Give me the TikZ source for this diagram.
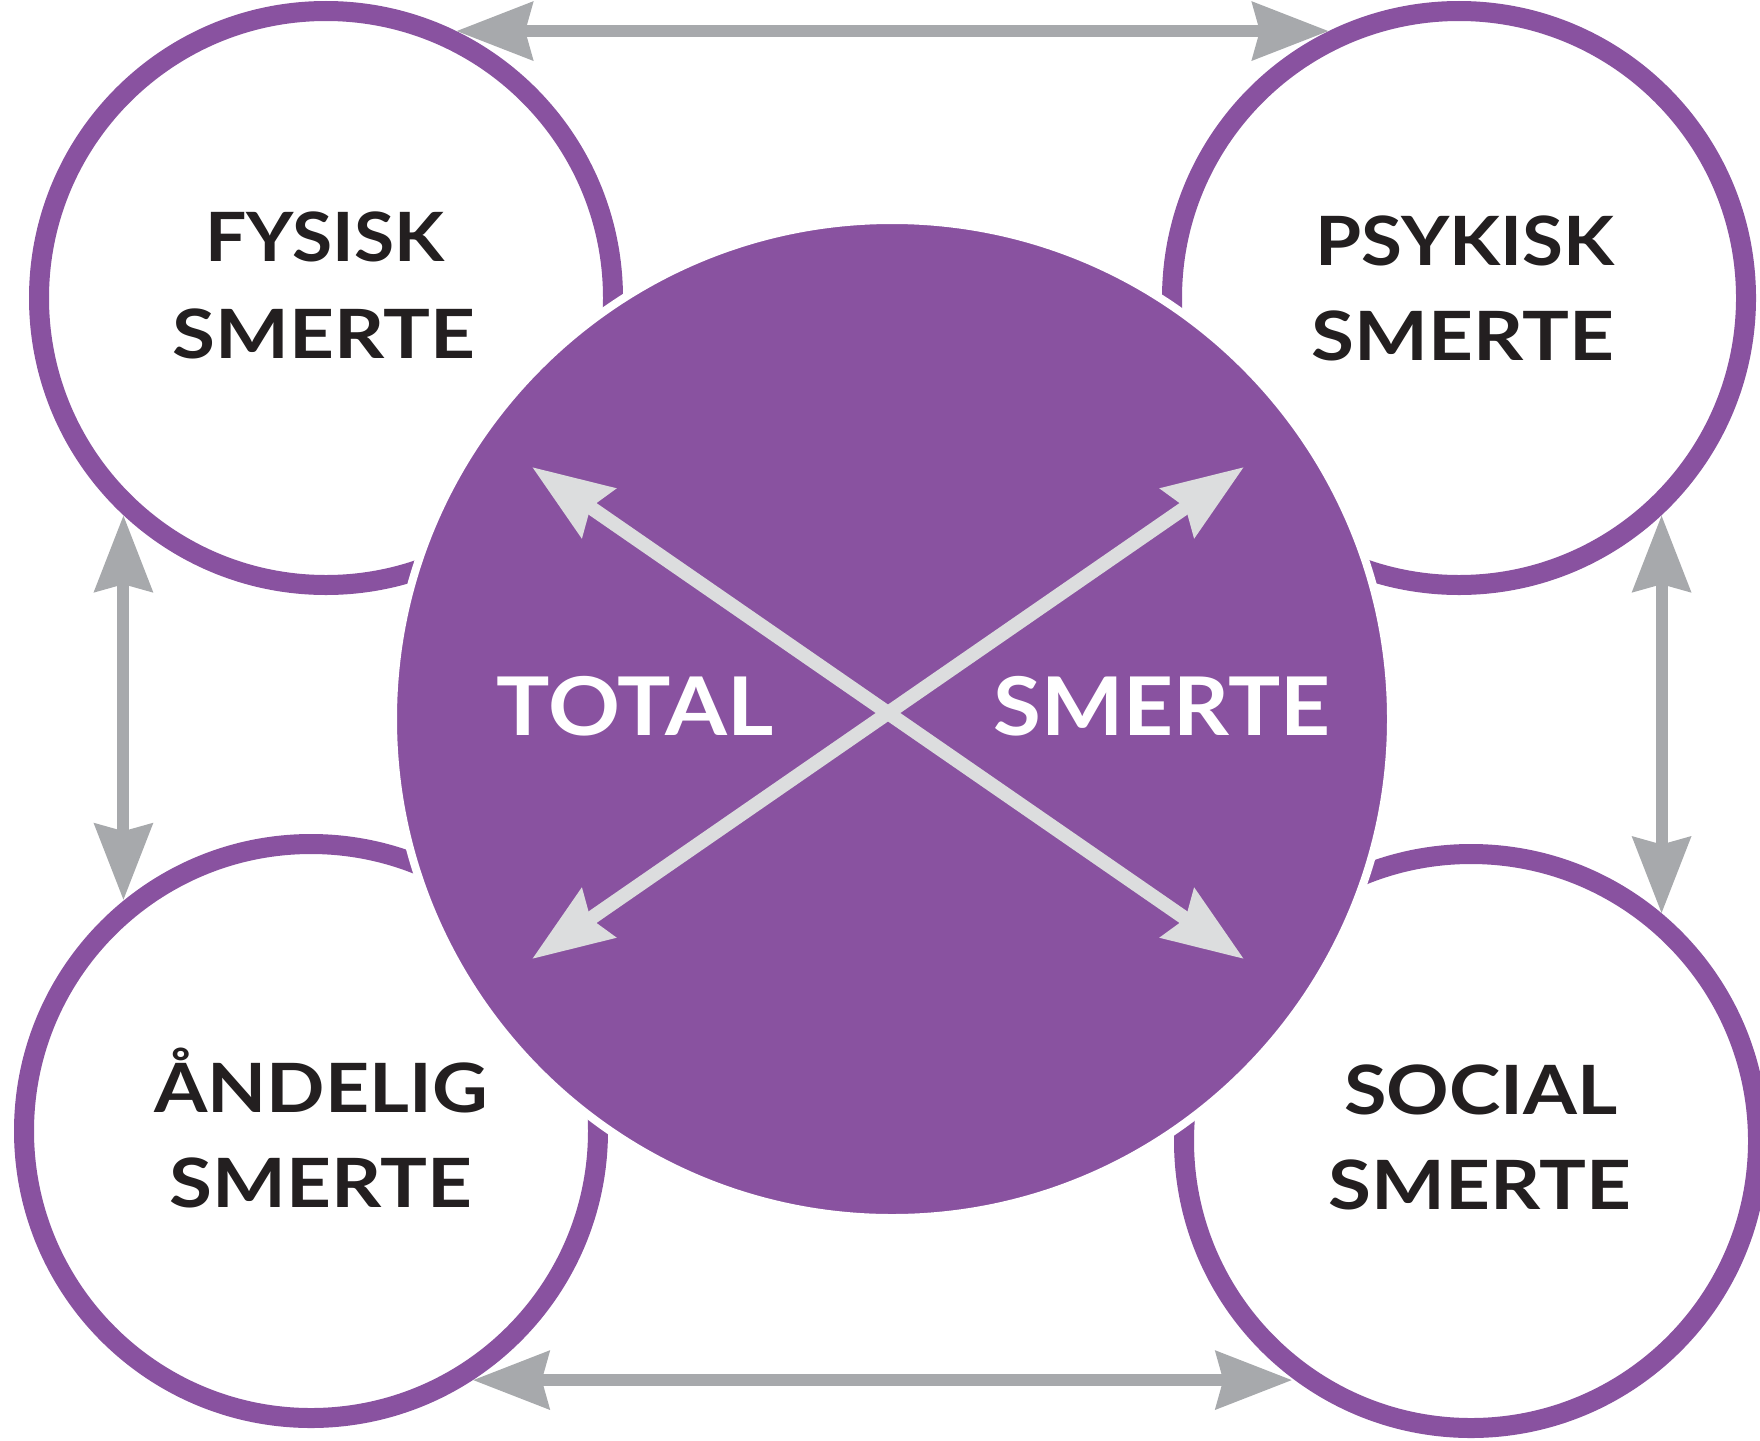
\documentclass[tikz,border=0pt]{standalone}
\usepackage{graphicx}
\usepackage{fontspec}
\setmainfont{Lato}
\usetikzlibrary{arrows.meta}
\definecolor{purp}{HTML}{8952A0}
\definecolor{garrow}{HTML}{A7A9AC}
\definecolor{larrow}{HTML}{DCDDDE}
\definecolor{txt}{HTML}{231F20}
\newcommand{\wstretch}[2]{\scalebox{#1}[1]{#2}}
\begin{document}
\begin{tikzpicture}[x=0.5pt,y=-0.5pt,
  ring/.style={circle, draw=purp, fill=white, line width=10pt, minimum size=287pt, inner sep=0pt},
  hub/.style={circle, draw=white, fill=purp, line width=4pt, minimum size=499pt, inner sep=0pt},
  lbl/.style={anchor=base, inner sep=0pt, text=txt, font=\fontsize{34}{40}\selectfont\bfseries},
  wlbl/.style={anchor=base, inner sep=0pt, text=white, font=\fontsize{40.5}{48}\selectfont\bfseries},
  garr/.style={draw=garrow, line width=6pt, {Stealth[length=38pt,width=28.5pt,inset=3.5pt]}-{Stealth[length=38pt,width=28.5pt,inset=3.5pt]}},
  larr/.style={draw=larrow, line width=7pt, {Stealth[length=40pt,width=29pt,inset=4.5pt]}-{Stealth[length=40pt,width=29pt,inset=4.5pt]}}
]
\useasboundingbox (0,0) rectangle (1760,1440);
\node[ring] (fys) at (326,298) {};
\node[ring] (psy) at (1459,298) {};
\node[ring] (and) at (311,1131) {};
\node[ring] (soc) at (1471,1141) {};
\node[hub] (tot) at (892,719) {};
\draw[garr] (fys.64) -- (fys.64 -| psy.116);
\draw[garr] (fys.-133) -- (fys.-133 |- and.129);
\draw[garr] (psy.-47) -- (psy.-47 |- soc.50);
\draw[garr] (and.-57) -- (and.-57 -| soc.233);
\coordinate (ul) at (532,467);
\coordinate (lr) at (1244,959);
\coordinate (ur) at (1244,467);
\coordinate (ll) at (532,959);
\draw[larr] (ul) -- (lr);
\draw[larr] (ur) -- (ll);
\node[lbl] (fysA) at (325,261) {\wstretch{1.075}{FYSISK}};
\node[lbl] (fysB) at (324,358) {\wstretch{1.15}{SMERTE}};
\node[lbl] (psyA) at (1465,265) {\wstretch{1.096}{PSYKISK}};
\node[lbl] (psyB) at (1463,360) {\wstretch{1.15}{SMERTE}};
\node[lbl] (andA) at (321,1112) {\wstretch{1.13}{ÅNDELIG}};
\node[lbl] (andB) at (321,1207) {\wstretch{1.15}{SMERTE}};
\node[lbl] (socA) at (1481,1114) {\wstretch{1.14}{SOCIAL}};
\node[lbl] (socB) at (1480,1209) {\wstretch{1.15}{SMERTE}};
\node[wlbl] (totA) at (635,735) {\wstretch{1.10}{TOTAL}};
\node[wlbl] (totB) at (1162,735) {\wstretch{1.075}{SMERTE}};
\end{tikzpicture}
\end{document}
